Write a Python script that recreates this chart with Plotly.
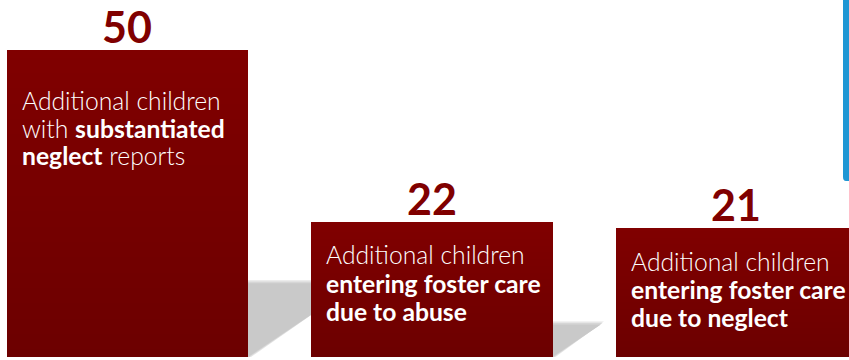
import plotly.graph_objects as go

# Data
values = [50, 22, 21]
value_labels = [str(v) for v in values]
# Each description is three lines; <b> marks the emphasised words
label_lines = [
    ["Additional children", "with <b>substantiated</b>", "<b>neglect</b> reports"],
    ["Additional children", "<b>entering foster care</b>", "<b>due to abuse</b>"],
    ["Additional children", "<b>entering foster care</b>", "<b>due to neglect</b>"],
]

# Layout / style
W, H = 849, 360
BAR_W = 0.7915
X_RANGE = [-0.4187, 2.3695]
PX_PER_UNIT = 6.14
PX_PER_X = W / (X_RANGE[1] - X_RANGE[0])
Y_RANGE = [-3 / PX_PER_UNIT, (H - 3) / PX_PER_UNIT]
TOP_RGB = (128, 0, 0)
BOTTOM_RGB = (108, 0, 0)
N_LAYERS = 40
text_drop = [34, 16, 17]        # px from bar top to the first text line box
line_step = [27.5, 28.7, 28.0]  # px between text lines inside each bar

xs = list(range(len(values)))

fig = go.Figure()

# Vertical gradient: overlaid bars, each a bit shorter and darker than the last
for k in range(N_LAYERS):
    t = k / (N_LAYERS - 1)
    r = round(TOP_RGB[0] + (BOTTOM_RGB[0] - TOP_RGB[0]) * t)
    frac = 1 - k / N_LAYERS
    fig.add_trace(go.Bar(
        x=xs,
        y=[v * frac for v in values],
        width=BAR_W,
        marker=dict(color=f"rgb({r},0,0)", line=dict(width=0)),
        hoverinfo="skip",
        showlegend=False,
    ))

# Floor shadows cast up and to the right of each bar
shapes = []
SLOPE_PX = 0.67
for x, v in zip(xs, values):
    s = 0.24 * v
    dx = s * PX_PER_UNIT / SLOPE_PX / PX_PER_X
    x0, x1 = x - BAR_W / 2, x + BAR_W / 2
    # soft outer edge, then the main shadow body
    for grow, col in ((3, "#e6e6e6"), (1.5, "#d6d6d6"), (0, "#c9c9c9")):
        gx = grow / PX_PER_X
        gy = grow / PX_PER_UNIT
        shapes.append(dict(
            type="path", xref="x", yref="y", layer="below",
            path=(f"M {x0},0 L {x1 + gx},0 L {x1 + dx + gx},{s + gy} "
                  f"L {x0 + dx},{s + gy} Z"),
            fillcolor=col, line=dict(width=0),
        ))

# Accent rule at the right edge
shapes.append(dict(
    type="path", xref="paper", yref="paper", layer="above",
    path=(f"M {843 / W},1.01 L {843 / W},{1 - 177 / H} "
          f"Q {843 / W},{1 - 181 / H} {846 / W},{1 - 181 / H} "
          f"L 1.01,{1 - 181 / H} L 1.01,1.01 Z"),
    fillcolor="#1f97d4", line=dict(width=0),
))

annotations = []
for i, (x, v, vl, lines) in enumerate(zip(xs, values, value_labels, label_lines)):
    annotations.append(dict(
        x=x, y=v, xref="x", yref="y", text=vl, showarrow=False,
        xanchor="center", yanchor="bottom", yshift=-4,
        font=dict(family="Lato", size=43, color="#800000", weight=700),
    ))
    for j, line in enumerate(lines):
        annotations.append(dict(
            x=x - BAR_W / 2, y=v, xref="x", yref="y",
            text=line, showarrow=False, align="left",
            xanchor="left", yanchor="top", xshift=13,
            yshift=-(text_drop[i] + j * line_step[i]),
            font=dict(family="Lato", size=24.7, color="white", weight=300),
        ))

fig.update_layout(
    width=W, height=H, autosize=False,
    margin=dict(l=0, r=0, t=0, b=0),
    paper_bgcolor="white", plot_bgcolor="white",
    barmode="overlay", bargap=0,
    xaxis=dict(range=X_RANGE, visible=False, fixedrange=True),
    yaxis=dict(range=Y_RANGE, visible=False, fixedrange=True),
    shapes=shapes, annotations=annotations,
    showlegend=False,
)

fig.write_html("out.html")
